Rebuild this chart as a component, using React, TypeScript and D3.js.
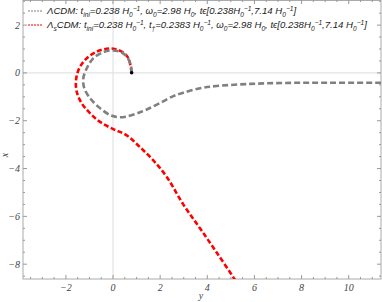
import * as d3 from "d3";

// horizontal axis is "y", vertical axis is "x"
const lcdmY = [0.79, 0.75, 0.58, 0.3, -0.06, -0.41, -0.83, -1.11, -1.26, -1.22, -0.97, -0.62, -0.13, 0.21, 0.55, 1.0, 1.43, 1.99, 2.56, 2.98, 3.69, 4.39, 5.81, 7.22, 8.63, 10.0, 11.5];
const lcdmX = [0.01, 0.34, 0.68, 0.89, 0.94, 0.87, 0.62, 0.2, -0.22, -0.64, -1.06, -1.42, -1.76, -1.85, -1.83, -1.7, -1.53, -1.26, -0.97, -0.83, -0.64, -0.55, -0.46, -0.42, -0.41, -0.41, -0.41];

const lscdmY = [0.79, 0.75, 0.65, 0.44, 0.08, -0.27, -0.69, -1.11, -1.43, -1.57, -1.54, -1.33, -0.97, -0.55, 0.01, 0.58, 1.14, 1.71, 2.28, 2.98, 3.69, 4.39, 5.15, 5.35];
const lscdmX = [0.01, 0.26, 0.62, 0.85, 1.0, 1.01, 0.89, 0.62, 0.2, -0.29, -0.79, -1.27, -1.69, -2.05, -2.35, -2.61, -3.1, -3.66, -4.35, -5.5, -6.5, -7.5, -8.62, -8.95];

const xTicks = [-2, 0, 2, 4, 6, 8, 10];
const yTicks = [2, 0, -2, -4, -6, -8];

type Seg = { t: string; sub?: boolean; sup?: boolean };
const legend1: Seg[] = [
  { t: "ΛCDM: t" }, { t: "ini", sub: true }, { t: "=0.238 H" }, { t: "0", sub: true }, { t: "−1", sup: true },
  { t: ", ω" }, { t: "0", sub: true }, { t: "=2.98 H" }, { t: "0", sub: true },
  { t: ", tϵ[0.238H" }, { t: "0", sub: true }, { t: "−1", sup: true }, { t: ",7.14 H" }, { t: "0", sub: true }, { t: "−1", sup: true }, { t: "]" },
];
const legend2: Seg[] = [
  { t: "Λ" }, { t: "s", sub: true }, { t: "CDM: t" }, { t: "ini", sub: true }, { t: "=0.238 H" }, { t: "0", sub: true }, { t: "−1", sup: true },
  { t: ", t" }, { t: "†", sub: true }, { t: "=0.2383 H" }, { t: "0", sub: true }, { t: "−1", sup: true },
  { t: ", ω" }, { t: "0", sub: true }, { t: "=2.98 H" }, { t: "0", sub: true },
  { t: ", tϵ[0.238H" }, { t: "0", sub: true }, { t: "−1", sup: true }, { t: ",7.14 H" }, { t: "0", sub: true }, { t: "−1", sup: true }, { t: "]" },
];

const W = 382;
const H = 302;
const m = { left: 23, right: 381, top: 0, bottom: 279 };

function LegendText({ segs, x, y }: { segs: Seg[]; x: number; y: number }) {
  return (
    <text x={x} y={y} fontFamily="Liberation Sans, Arial, sans-serif" fontStyle="italic" fontSize={9.6} fill="#222">
      {segs.map((s, i) => {
        if (s.sub) return <tspan key={i} dy={2.5} fontSize={6.6}>{s.t}</tspan>;
        if (s.sup) return <tspan key={i} dy={-6} fontSize={6.6}>{s.t}</tspan>;
        // reset baseline after sub/sup
        const prev = segs[i - 1];
        const dy = prev ? (prev.sub ? -2.5 : prev.sup ? 3.5 : 0) : 0;
        return <tspan key={i} dy={dy}>{s.t}</tspan>;
      })}
    </text>
  );
}

export default function App() {
  const xs = d3.scaleLinear().domain([-3.82, 11.37]).range([m.left, m.right]);
  const ys = d3.scaleLinear().domain([-8.62, 3.05]).range([m.bottom, m.top]);

  const line = d3
    .line<[number, number]>()
    .x((d) => xs(d[0]))
    .y((d) => ys(d[1]))
    .curve(d3.curveCatmullRom);

  const lcdm = lcdmY.map((v, i) => [v, lcdmX[i]] as [number, number]);
  const lscdm = lscdmY.map((v, i) => [v, lscdmX[i]] as [number, number]);

  const minorX = d3.range(-3.5, 11.4, 0.5).filter((v) => v % 2 !== 0);
  const minorY = d3.range(-8.5, 3.1, 0.5).filter((v) => v % 2 !== 0);
  const tickColor = "#999";
  const numFont = "Liberation Serif, Times New Roman, serif";

  return (
    <svg width={W} height={H} style={{ position: "absolute", left: 0, top: 0, background: "#fff" }}>
      <defs>
        <clipPath id="plot">
          <rect x={m.left} y={m.top} width={m.right - m.left} height={m.bottom - m.top} />
        </clipPath>
      </defs>
      {/* grid lines at zero */}
      <line x1={xs(0)} x2={xs(0)} y1={m.top} y2={m.bottom} stroke="#ddd" strokeWidth={1} />
      <line x1={m.left} x2={m.right} y1={ys(0)} y2={ys(0)} stroke="#ddd" strokeWidth={1} />

      {/* frame */}
      <rect x={m.left} y={m.top + 0.5} width={m.right - m.left} height={m.bottom - m.top - 0.5} fill="none" stroke="#aaa" strokeWidth={1} />

      {/* ticks */}
      {xTicks.map((t) => (
        <g key={"xt" + t}>
          <line x1={xs(t)} x2={xs(t)} y1={m.bottom} y2={m.bottom - 4} stroke={tickColor} />
          <line x1={xs(t)} x2={xs(t)} y1={m.top} y2={m.top + 4} stroke={tickColor} />
          <text x={xs(t)} y={m.bottom + 12} textAnchor="middle" fontFamily={numFont} fontStyle="italic" fontSize={10} fill="#444">
            {t < 0 ? "−" + Math.abs(t) : t}
          </text>
        </g>
      ))}
      {minorX.map((t) => (
        <g key={"xm" + t}>
          <line x1={xs(t)} x2={xs(t)} y1={m.bottom} y2={m.bottom - 2} stroke={tickColor} />
          <line x1={xs(t)} x2={xs(t)} y1={m.top} y2={m.top + 2} stroke={tickColor} />
        </g>
      ))}
      {yTicks.map((t) => (
        <g key={"yt" + t}>
          <line x1={m.left} x2={m.left + 4} y1={ys(t)} y2={ys(t)} stroke={tickColor} />
          <line x1={m.right} x2={m.right - 4} y1={ys(t)} y2={ys(t)} stroke={tickColor} />
          <text x={m.left - 3} y={ys(t) + 3.5} textAnchor="end" fontFamily={numFont} fontStyle="italic" fontSize={10} fill="#444">
            {t < 0 ? "−" + Math.abs(t) : t}
          </text>
        </g>
      ))}
      {minorY.map((t) => (
        <g key={"ym" + t}>
          <line x1={m.left} x2={m.left + 2} y1={ys(t)} y2={ys(t)} stroke={tickColor} />
          <line x1={m.right} x2={m.right - 2} y1={ys(t)} y2={ys(t)} stroke={tickColor} />
        </g>
      ))}

      {/* axis labels */}
      <text x={201} y={299} textAnchor="middle" fontFamily={numFont} fontStyle="italic" fontSize={10} fill="#444">y</text>
      <text transform="translate(8,155) rotate(-90)" textAnchor="middle" fontFamily={numFont} fontStyle="italic" fontSize={10} fill="#444">x</text>

      {/* curves */}
      <g clipPath="url(#plot)">
        <path d={line(lscdm) ?? ""} fill="none" stroke="#ff0000" strokeWidth={2.6} strokeDasharray="5,2.5" />
        <path d={line(lcdm) ?? ""} fill="none" stroke="#808080" strokeWidth={2.6} strokeDasharray="6,3" />
        <circle cx={xs(lcdm[0][0])} cy={ys(lcdm[0][1])} r={1.8} fill="#000" />
      </g>

      {/* legend */}
      <line x1={28} x2={43} y1={11} y2={11} stroke="#808080" strokeWidth={1} strokeDasharray="2,1" />
      <LegendText segs={legend1} x={47} y={14} />
      <line x1={28} x2={43} y1={25} y2={25} stroke="#ff0000" strokeWidth={1} strokeDasharray="2,1" />
      <LegendText segs={legend2} x={47} y={28} />
    </svg>
  );
}
